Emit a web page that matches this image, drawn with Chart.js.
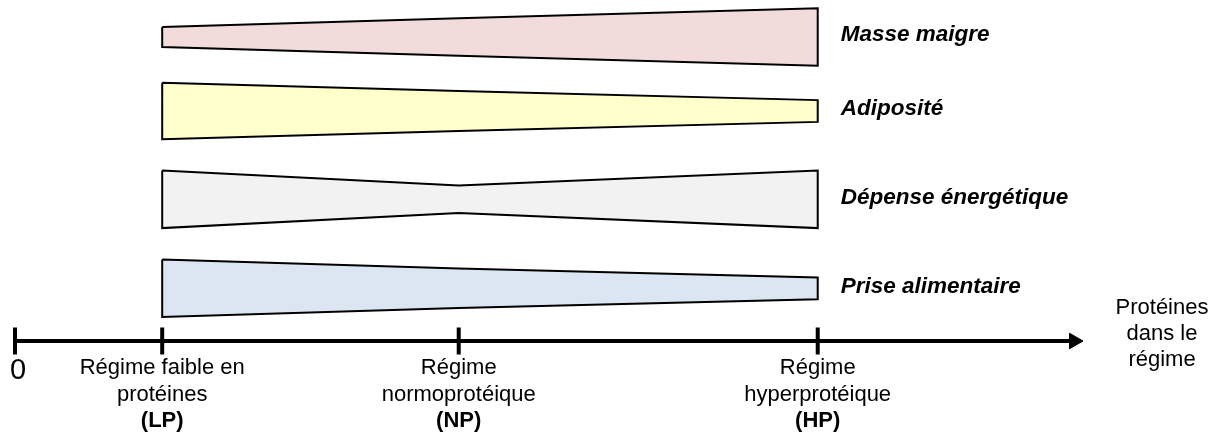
<!DOCTYPE html>
<html><head><meta charset="utf-8">
<script src="https://cdn.jsdelivr.net/npm/chart.js@4"></script>
<style>html,body{margin:0;padding:0;background:#fff}canvas{display:block}</style>
</head><body>
<canvas id="c" width="1220" height="434"></canvas>
<script>
// ---- data ----
const seriesNames = ['Masse maigre', 'Adiposité', 'Dépense énergétique', 'Prise alimentaire'];
const seriesColors = ['#F2DCDB', '#FFFFCC', '#F2F2F2', '#DCE6F2'];
const regimeX = [13.9, 41.9, 75.8];               // LP, NP, HP on the protein axis
const regimeLabels = [
  ['Régime faible en', 'protéines', '(LP)'],
  ['Régime', 'normoprotéique', '(NP)'],
  ['Régime', 'hyperprotéique', '(HP)']
];
const axisTicks = [0, 13.9, 41.9, 75.8];
const axisTickLabel = '0';
const axisEnd = 100;
const axisTitle = ['Protéines', 'dans le', 'régime'];
const rowCenter = [30.4, 23.0, 14.17, 5.27];      // vertical centre of each band
const halfMasse = [1.0, 1.87, 2.87];              // half thickness at LP, NP, HP
const halfAdipo = [2.83, 2.0, 1.09];
const halfDepense = [2.88, 1.37, 2.88];
const halfPrise = [2.87, 1.97, 1.09];
const halfWidths = [halfMasse, halfAdipo, halfDepense, halfPrise];
const tickHalf = 1.35;

// ---- datasets ----
const datasets = [];
halfWidths.forEach((hw, i) => {
  const top = regimeX.map((x, k) => ({x, y: rowCenter[i] + hw[k]}));
  const bot = regimeX.map((x, k) => ({x, y: rowCenter[i] - hw[k]}));
  datasets.push({data: top, borderWidth: 0, pointRadius: 0, fill: false, order: 2, clip: false});
  datasets.push({data: bot, borderWidth: 0, pointRadius: 0, fill: '-1', backgroundColor: seriesColors[i], order: 2, clip: false});
  const outline = top.concat(bot.slice().reverse(), [top[0]]);
  datasets.push({data: outline, borderColor: '#000', borderWidth: 2, pointRadius: 0, fill: false, order: 1, clip: false, borderJoinStyle: 'miter'});
});
// axis line with arrow head
datasets.push({
  data: [{x: 0, y: 0}, {x: axisEnd, y: 0}],
  borderColor: '#000', borderWidth: 4, fill: false, order: 0, clip: false,
  pointRadius: c => c.dataIndex === 1 ? 9 : 0,
  pointStyle: 'triangle', pointRotation: 90,
  pointBackgroundColor: '#000', pointBorderColor: '#000', pointBorderWidth: 1
});
// axis tick marks
const tickData = [];
axisTicks.forEach(v => { tickData.push({x: v, y: tickHalf}, {x: v, y: -tickHalf}, {x: v, y: null}); });
datasets.push({data: tickData, borderColor: '#000', borderWidth: 4, pointRadius: 0, fill: false, order: 0, clip: false, spanGaps: false, borderCapStyle: 'butt'});

// ---- text plugin ----
const textPlugin = {
  id: 'texts',
  afterDatasetsDraw(chart) {
    const {ctx, scales: {x, y}} = chart;
    const y0 = y.getPixelForValue(0);
    ctx.save();
    ctx.fillStyle = '#000';
    ctx.textBaseline = 'middle';
    // regime labels
    ctx.textAlign = 'center';
    regimeLabels.forEach((lines, i) => {
      const px = x.getPixelForValue(regimeX[i]);
      lines.forEach((t, j) => {
        ctx.font = (j === 2 ? 'bold ' : '') + '22px "Liberation Sans", Arial, sans-serif';
        ctx.fillText(t, px, y0 + 27 + j * 26.5);
      });
    });
    // zero label
    ctx.font = '29px "Liberation Sans", Arial, sans-serif';
    ctx.fillText(axisTickLabel, x.getPixelForValue(0) + 3, y0 + 30);
    // axis title
    ctx.font = '22px "Liberation Sans", Arial, sans-serif';
    const tx = x.getPixelForValue(axisEnd) + 88;
    axisTitle.forEach((t, j) => ctx.fillText(t, tx, y0 - 33 + j * 26));
    // series names
    ctx.textAlign = 'left';
    ctx.font = 'italic bold 22.5px "Liberation Sans", Arial, sans-serif';
    seriesNames.forEach((n, i) => {
      ctx.fillText(n, x.getPixelForValue(regimeX[2]) + 23, y.getPixelForValue(rowCenter[i]) - 2);
    });
    ctx.restore();
  }
};

new Chart(document.getElementById('c'), {
  type: 'line',
  data: {datasets},
  options: {
    responsive: false,
    animation: false,
    devicePixelRatio: 1,
    elements: {line: {tension: 0}},
    layout: {autoPadding: false, padding: {left: 15, right: 146, top: 0, bottom: 0}},
    scales: {
      x: {type: 'linear', display: false, min: 0, max: axisEnd},
      y: {type: 'linear', display: false, min: -9.3, max: 34.1}
    },
    plugins: {legend: {display: false}, tooltip: {enabled: false}}
  },
  plugins: [textPlugin]
});
</script>
</body></html>
